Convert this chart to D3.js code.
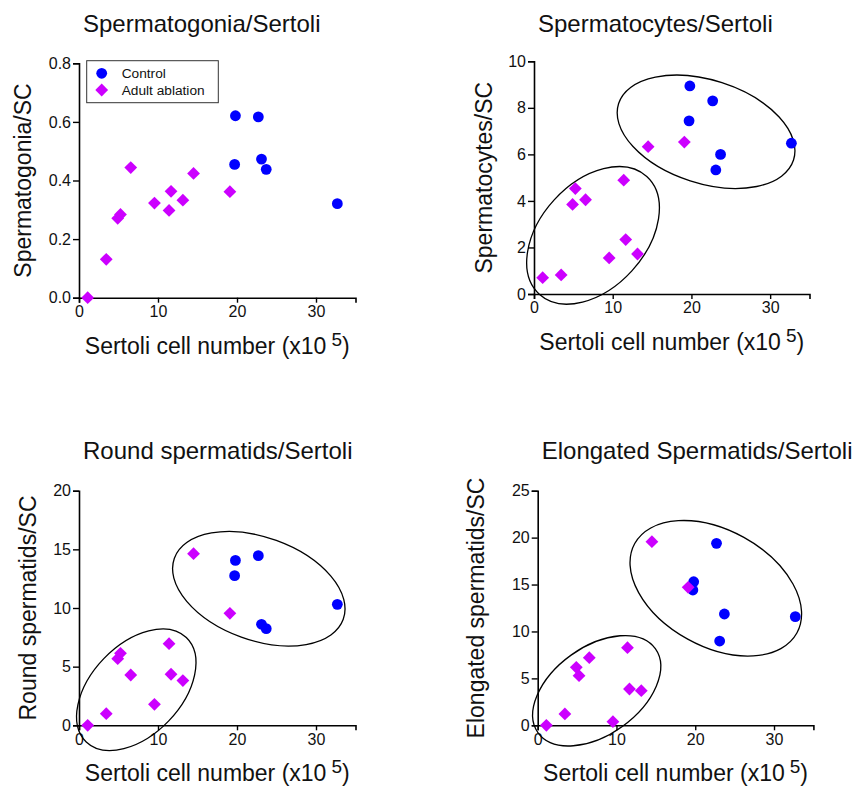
<!DOCTYPE html>
<html>
<head>
<meta charset="utf-8">
<script src="https://cdn.jsdelivr.net/npm/d3@7"></script>
<style>
  html, body { margin: 0; padding: 0; background: #fff; }
  svg { display: block; font-family: "Liberation Sans", Arial, sans-serif; }
</style>
</head>
<body>
<svg id="chart" width="865" height="787"></svg>
<script>
// ---- Data (Sertoli cell number x10^5 per animal) ----
const sertoliControl  = [19.8, 19.7, 22.7, 23.1, 23.7, 32.7];
const sertoliAblation = [1.1, 3.45, 4.9, 5.25, 6.55, 9.55, 11.4, 11.65, 13.15, 14.5, 19.1];

const spermatogoniaControl  = [0.621, 0.455, 0.617, 0.473, 0.438, 0.321];
const spermatogoniaAblation = [0.0, 0.131, 0.271, 0.284, 0.444, 0.323, 0.298, 0.363, 0.333, 0.424, 0.362];

const spermatocytesControl  = [8.94, 7.44, 8.30, 5.33, 6.00, 6.48];
const spermatocytesAblation = [0.70, 0.82, 3.85, 4.53, 4.05, 1.55, 4.89, 2.34, 1.72, 6.33, 6.53];

const roundControl  = [14.06, 12.76, 14.46, 8.61, 8.24, 10.31];
const roundAblation = [0.0, 0.99, 5.68, 6.14, 4.29, 1.79, 6.96, 4.35, 3.81, 14.63, 9.55];

const elongControl  = [15.3, 14.42, 19.39, 8.98, 11.86, 11.58];
const elongAblation = [0.0, 1.21, 6.18, 5.29, 7.21, 0.39, 8.27, 3.87, 3.69, 19.57, 14.70];

const titles  = ["Spermatogonia/Sertoli", "Spermatocytes/Sertoli", "Round spermatids/Sertoli", "Elongated Spermatids/Sertoli"];
const yLabels = ["Spermatogonia/SC", "Spermatocytes/SC", "Round spermatids/SC", "Elongated spermatids/SC"];
const yMax    = [0.8, 10, 20, 25];
const yTicks  = [[0, 0.2, 0.4, 0.6, 0.8], [0, 2, 4, 6, 8, 10], [0, 5, 10, 15, 20], [0, 5, 10, 15, 20, 25]];
const xTicks  = [0, 10, 20, 30];
const xMax    = 35;
const seriesNames = ["Control", "Adult ablation"];

// Cluster ellipse annotations: centres in data units
const ellipseCentres = [
  [],
  [[21.86, 6.97], [7.5, 2.52]],
  [[22.76, 11.64], [7.25, 3.03]],
  [[22.61, 14.6], [7.49, 3.68]]
];

// ---- Layout ----
const colors = { control: "#0000ff", ablation: "#cc00ff" };
const layout = [
  { x0: 79,    x1: 355.5, y0: 297.7, y1: 63.3,  yLabOff: 48, titleY: 32,  ellipseShapes: [] },
  { x0: 534,   x1: 809.5, y0: 294,   y1: 61.3,  yLabOff: 42, titleY: 32,
    ellipseShapes: [{ rx: 91.9, ry: 51.6, a: 17.9 }, { rx: 79.7, ry: 52.6, a: -47.6 }] },
  { x0: 79,    x1: 355.5, y0: 725.3, y1: 490.7, yLabOff: 43, titleY: 459,
    ellipseShapes: [{ rx: 89.8, ry: 51.4, a: 19.9 }, { rx: 72.3, ry: 45.0, a: -46.2 }] },
  { x0: 537.7, x1: 813.4, y0: 725.3, y1: 490.7, yLabOff: 54, titleY: 459,
    ellipseShapes: [{ rx: 92.6, ry: 58.1, a: 28.9 }, { rx: 72.2, ry: 43.9, a: -35.7 }] }
];

const panelData = [
  [spermatogoniaControl, spermatogoniaAblation],
  [spermatocytesControl, spermatocytesAblation],
  [roundControl, roundAblation],
  [elongControl, elongAblation]
];

const svg = d3.select("#chart");
const diamond = (s) => `M0,${-s}L${s},0L0,${s}L${-s},0Z`;
const R = 5.4, D = 6.4;

layout.forEach((L, i) => {
  const g = svg.append("g");
  const x = d3.scaleLinear().domain([0, xMax]).range([L.x0, L.x1]);
  const y = d3.scaleLinear().domain([0, yMax[i]]).range([L.y0, L.y1]);

  // axes
  const fmt = yMax[i] < 1 ? d3.format(".1f") : d3.format("d");
  const ya = g.append("g").attr("transform", `translate(${L.x0},0)`)
    .call(d3.axisLeft(y).tickValues(yTicks[i]).tickFormat(fmt).tickSizeOuter(0).tickSize(6).tickPadding(2));
  const xa = g.append("g").attr("transform", `translate(0,${L.y0})`)
    .call(d3.axisBottom(x).tickValues(xTicks).tickFormat(d3.format("d")).tickSizeOuter(0).tickSize(5).tickPadding(3));
  [ya, xa].forEach(a => {
    a.select(".domain").attr("stroke", "#000").attr("stroke-width", 1.6);
    a.selectAll(".tick line").attr("stroke", "#000").attr("stroke-width", 1.4);
    a.selectAll(".tick text").attr("fill", "#111").style("font-size", "16px")
      .style("font-family", '"Liberation Sans", Arial, sans-serif');
  });

  // title
  g.append("text").attr("x", L.x0 + 4).attr("y", L.titleY)
    .style("font-size", "24px").attr("fill", "#111").text(titles[i]);

  // y label
  g.append("text")
    .attr("transform", `translate(${L.x0 - L.yLabOff},${(L.y0 + L.y1) / 2}) rotate(-90)`)
    .attr("text-anchor", "middle").style("font-size", "23px").attr("fill", "#111")
    .text(yLabels[i]);

  // x label with superscript
  const xl = g.append("text")
    .attr("x", (L.x0 + L.x1) / 2).attr("y", L.y0 + 56)
    .attr("text-anchor", "middle").style("font-size", "23px").attr("fill", "#111");
  xl.append("tspan").text("Sertoli cell number (x10");
  xl.append("tspan").attr("dx", 5).attr("dy", -8).style("font-size", "19px").text("5");
  xl.append("tspan").attr("dy", 8).text(")");

  // ellipses
  ellipseCentres[i].forEach((c, k) => {
    const s = L.ellipseShapes[k];
    g.append("ellipse")
      .attr("transform", `translate(${x(c[0])},${y(c[1])}) rotate(${s.a})`)
      .attr("rx", s.rx).attr("ry", s.ry)
      .attr("fill", "none").attr("stroke", "#000").attr("stroke-width", 1.3);
  });

  const [ctrl, abl] = panelData[i];
  // control circles
  g.selectAll("circle.ctrl").data(ctrl).join("circle").attr("class", "ctrl")
    .attr("cx", (d, j) => x(sertoliControl[j])).attr("cy", d => y(d))
    .attr("r", R).attr("fill", colors.control);
  // ablation diamonds
  g.selectAll("path.abl").data(abl).join("path").attr("class", "abl")
    .attr("transform", (d, j) => `translate(${x(sertoliAblation[j])},${y(d)})`)
    .attr("d", diamond(D)).attr("fill", colors.ablation);

  // legend on first panel
  if (i === 0) {
    const lg = g.append("g");
    lg.append("rect").attr("x", 86.7).attr("y", 60.7).attr("width", 131.6).attr("height", 42)
      .attr("fill", "#fff").attr("stroke", "#333").attr("stroke-width", 1);
    lg.append("circle").attr("cx", 101.7).attr("cy", 73.3).attr("r", R).attr("fill", colors.control);
    lg.append("path").attr("transform", "translate(101.7,90)").attr("d", diamond(D)).attr("fill", colors.ablation);
    lg.append("text").attr("x", 121.7).attr("y", 78).style("font-size", "13.7px").attr("fill", "#111").text(seriesNames[0]);
    lg.append("text").attr("x", 121.7).attr("y", 95).style("font-size", "13.7px").attr("fill", "#111").text(seriesNames[1]);
  }
});
</script>
</body>
</html>
